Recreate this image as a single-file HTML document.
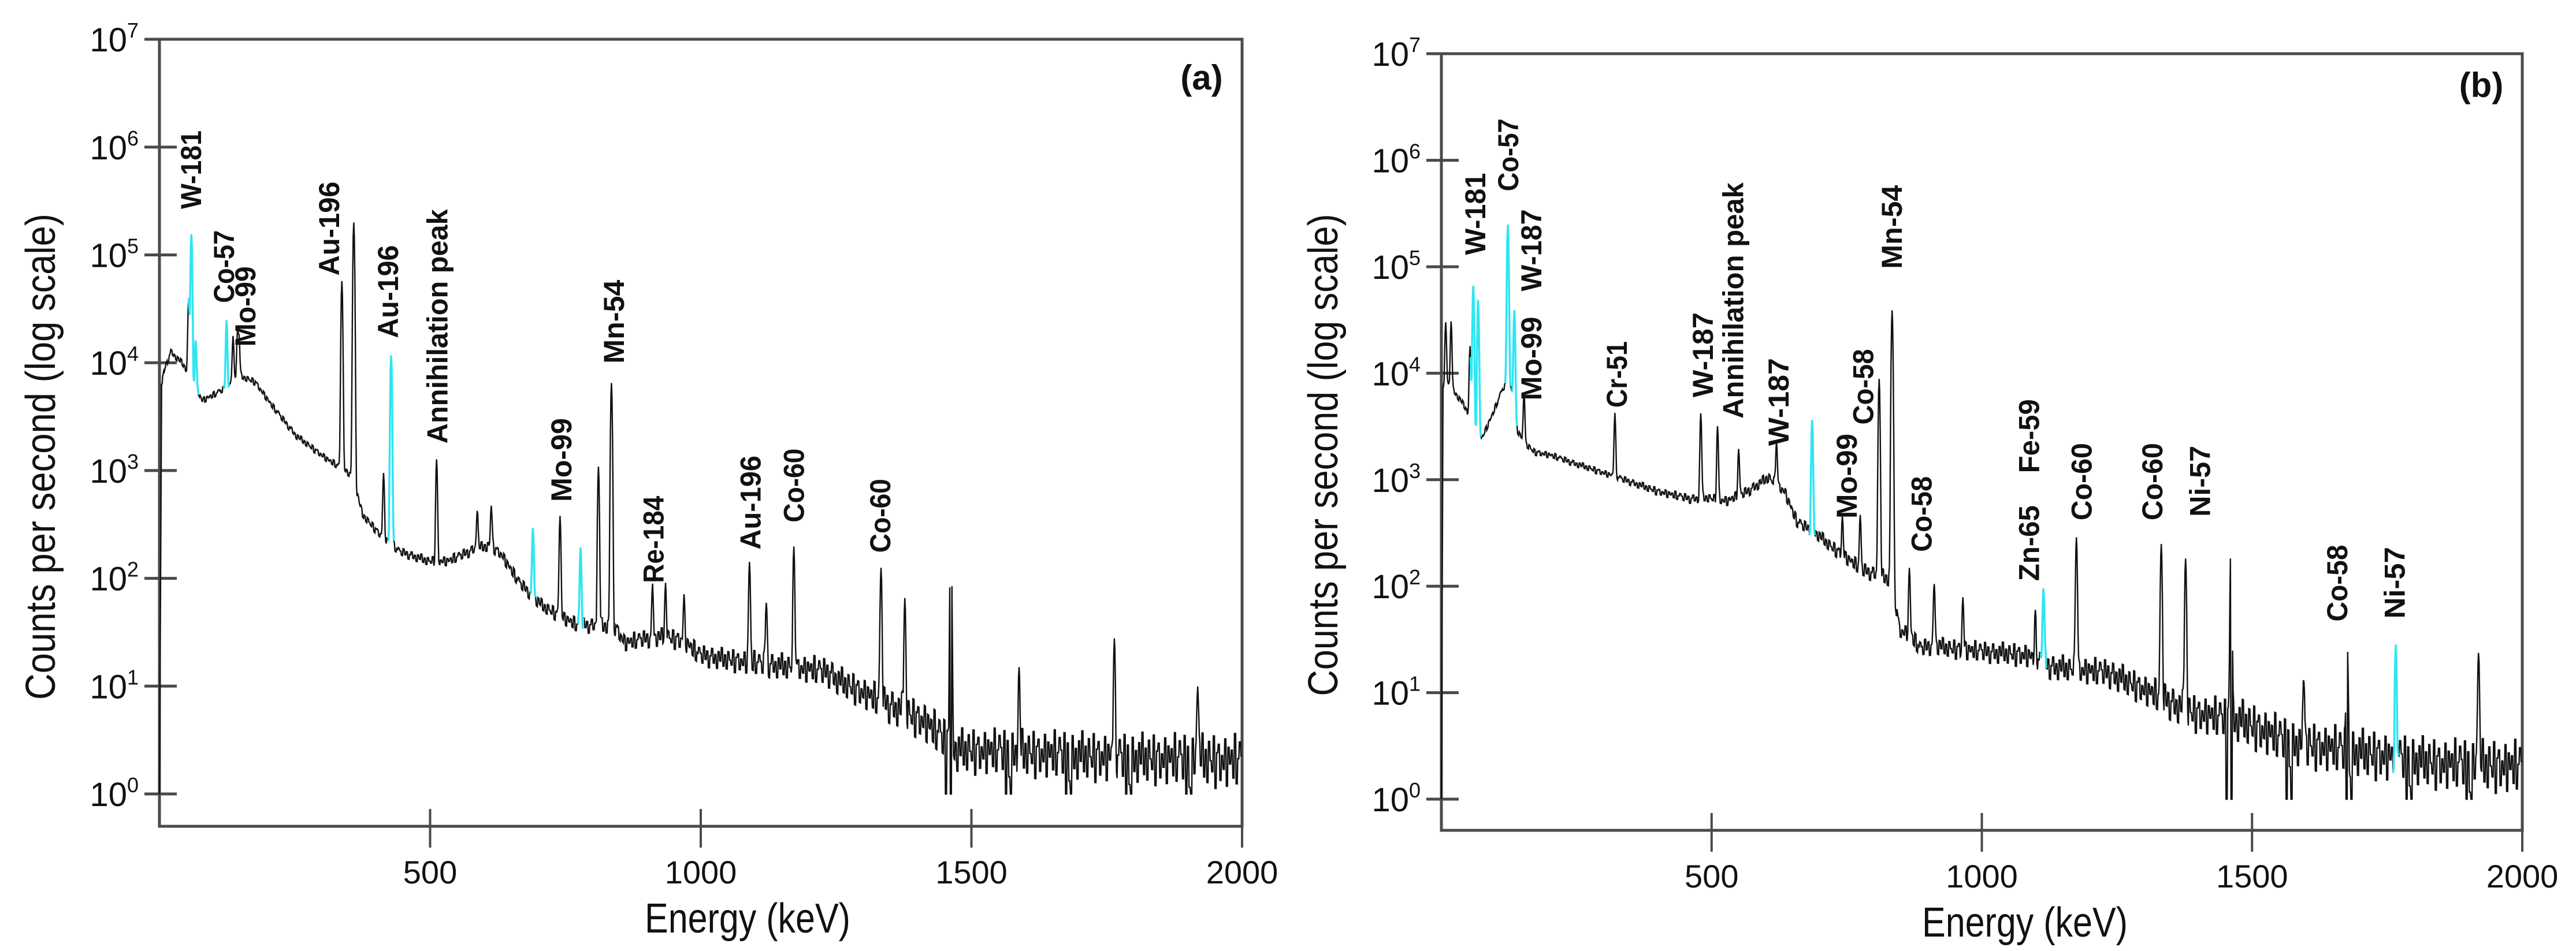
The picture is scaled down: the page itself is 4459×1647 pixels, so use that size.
<!DOCTYPE html>
<html><head><meta charset="utf-8"><style>
html,body{margin:0;padding:0;background:#fff;}
svg{display:block;}
text{font-family:"Liberation Sans",sans-serif;}
</style></head><body>
<svg id="fig" width="4459" height="1647" viewBox="0 0 4459 1647" xmlns="http://www.w3.org/2000/svg">
<rect width="4459" height="1647" fill="#fff"/>
<g id="panelA"></g>
<g id="panelB"></g>
</svg>
<script>
const NS="http://www.w3.org/2000/svg";
// ---------- data ----------
const xTicks=[500,1000,1500,2000];
const yTickExps=[0,1,2,3,4,5,6,7];
const noisePattern=[0.2,-0.7,0.9,-0.3,0.5,-1,0.1,0.8,-0.5,0.3,-0.9,0.6,-0.2,1,-0.6,0.4,-0.8,0.7,0,-0.4,0.9,-1,0.3,0.6,-0.7,0.2,-0.3,0.8,-0.9,0.5,-0.1,0.4,-0.6,1,-0.8,0.1,0.7];
const ampE=[0,300,700,1000,1300,1500,2000];
const ampV=[0.03,0.03,0.06,0.1,0.15,0.22,0.26];

const contA_E=[0,4,10,21,41,55,79,100,124,147,177,208,253,314,350,358,362,375,405,443,496,534,587,613,632,663,708,769,842,860,911,935,969,996,1040,1121,1208,1239,1254,1315,1413,1474,1588,1700,1800,2000];
const contA_V=[0,3.8,3.95,4.1,4.0,3.9,3.65,3.7,3.77,3.88,3.82,3.6,3.32,3.09,2.98,2.96,2.85,2.59,2.42,2.25,2.16,2.16,2.28,2.3,2.22,1.97,1.74,1.57,1.55,1.4,1.45,1.45,1.42,1.29,1.25,1.2,1.15,1.12,1.05,0.9,0.67,0.4,0.38,0.35,0.33,0.3];
const peaksA_E=[54,59,67,124,136,144,147,337,359,414,428,512,587,613,690,740,778,811,835,911,935,969,1090,1121,1172,1333,1377,1462,1588,1764,1918];
const peaksA_V=[4.5,5.17,4.0,4.27,4.05,4.05,4.0,4.75,5.3,2.84,4.06,3.05,2.4,2.45,2.36,2.53,2.19,3.02,3.81,1.75,1.78,1.6,2.1,1.65,2.25,2.07,1.77,2.42,1.07,1.38,0.94];
const peaksA_C=[0,1,1,1,0,0,0,0,0,0,1,0,0,0,1,0,1,0,0,0,0,0,0,0,0,0,0,0,0,0,0];

const contB_E=[0,3,10,20,35,53,60,76,96,114,128,141,153,172,202,248,321,400,460,491,529,550,567,605,635,658,693,719,780,810,835,848,866,886,912,932,965,1008,1084,1129,1236,1312,1388,1479,1570,1676,1843,2000];
const contB_V=[0,3.86,3.9,3.85,3.75,3.6,3.5,3.4,3.63,3.86,3.9,3.46,3.35,3.26,3.23,3.15,3.03,2.89,2.82,2.83,2.8,2.85,2.89,3.02,2.89,2.6,2.5,2.38,2.15,2.1,2.05,1.58,1.55,1.41,1.45,1.42,1.4,1.38,1.35,1.24,1.18,1.0,0.81,0.73,0.53,0.45,0.33,0.3];
const peaksB_E=[8,18,53,59,68,123,135,153,321,480,511,550,620,686,742,775,810,834,866,912,965,1099,1114,1175,1332,1377,1461,1596,1676,1766,1919];
const peaksB_V=[4.34,4.37,4.14,4.8,4.66,5.38,4.54,3.63,3.49,3.55,3.4,3.09,3.16,3.52,2.4,2.48,3.94,4.59,2.04,1.9,1.72,1.52,1.9,2.44,2.38,2.24,2.38,1.01,1.44,1.38,1.35];
const peaksB_C=[0,0,0,1,1,1,1,0,0,0,0,0,0,1,0,0,0,0,0,0,0,0,1,0,0,0,0,0,0,1,0];

const labelsA_T=["W-181","Co-57","Mo-99","Au-196","Au-196","Annihilation peak","Mo-99","Mn-54","Re-184","Au-196","Co-60","Co-60"];
const labelsA_L=[[232,215,345],[272,380,500],[298,440,572],[400,300,455],[472,405,558],[532,345,732],[683,690,828],[747,462,600],[795,818,962],[913,752,907],[966,740,862],[1071,790,912]];
const labelsB_T=["W-181","Co-57","W-187","Mo-99","Cr-51","W-187","Annihilation peak","W-187","Mo-99","Co-58","Mn-54","Co-58","Zn-65","Fe-59","Co-60","Co-60","Ni-57","Co-58","Ni-57"];
const labelsB_L=[[228,285,420],[268,195,315],[296,345,480],[296,522,660],[400,562,672],[505,515,655],[542,300,690],[597,590,735],[680,715,855],[700,575,700],[735,305,443],[771,785,910],[902,833,958],[902,658,780],[966,730,858],[1052,730,858],[1110,735,852],[1277,898,1025],[1347,902,1020]];

// ---------- helpers ----------
function el(tag,attrs,parent){const e=document.createElementNS(NS,tag);for(const k in attrs)e.setAttribute(k,attrs[k]);if(parent)parent.appendChild(e);return e;}
function interp(xs,ys,x){if(x<=xs[0])return ys[0];for(let i=1;i<xs.length;i++){if(x<=xs[i]){const t=(x-xs[i-1])/(xs[i]-xs[i-1]);return ys[i-1]+t*(ys[i]-ys[i-1]);}}return ys[ys.length-1];}

function drawPanel(g,cfg){
  const xs=e=>cfg.x0+(e/2000)*(cfg.x1-cfg.x0);
  const ys=l=>cfg.y0-l*cfg.dec;
  const axis="#4a4a4a";
  let f=el('rect',{x:cfg.x0,y:cfg.top,width:cfg.x1-cfg.x0,height:cfg.bottom-cfg.top,fill:'none',stroke:axis,'stroke-width':5},g);
  
  yTickExps.forEach(p=>{
    const y=ys(p);
    if(p<7){const t=el('line',{x1:cfg.x0-26,x2:cfg.x0+30,y1:y,y2:y,stroke:axis,'stroke-width':5},g);
    }
    else{el('line',{x1:cfg.x0-26,x2:cfg.x0,y1:cfg.top,y2:cfg.top,stroke:axis,'stroke-width':5},g);}
    const yy=p<7?y:cfg.top;
    const tx=el('text',{x:cfg.x0-36,y:yy+21,'font-size':58,'text-anchor':'end',fill:'#111'},g);
    
    const a=el('tspan',{},tx);a.textContent='10';
    const b=el('tspan',{'font-size':36,dy:-24},tx);b.textContent=String(p);
  });
  xTicks.forEach(v=>{
    const x=xs(v);
    const t=el('line',{x1:x,x2:x,y1:cfg.bottom-30,y2:cfg.bottom+37,stroke:axis,'stroke-width':4},g);
    
    const tx=el('text',{x:x,y:cfg.bottom+99,'font-size':56,'text-anchor':'middle',fill:'#111'},g);
    
    tx.textContent=String(v);
  });
  const yt=el('text',{x:0,y:0,'font-size':72,'text-anchor':'middle',fill:'#111',textLength:cfg.ytLen,lengthAdjust:'spacingAndGlyphs',transform:`translate(${cfg.ytX},${cfg.ytY}) rotate(-90)`},g);
  
  yt.textContent='Counts per second (log scale)';
  const xt=el('text',{x:cfg.xtX,y:cfg.bottom+184,'font-size':72,'text-anchor':'middle',fill:'#111',textLength:356,lengthAdjust:'spacingAndGlyphs'},g);
  
  xt.textContent='Energy (keV)';
  const pl=el('text',{x:cfg.panX,y:cfg.panY,'font-size':60,'font-weight':'bold','text-anchor':'middle',fill:'#111'},g);
  
  pl.textContent=cfg.panel;
  // spectrum
  const pts=[];
  for(let e=0;e<=2000;e++){
    const bin=Math.floor(e/3);
    let lc=interp(cfg.cE,cfg.cV,e);
    if(e>4) lc+=noisePattern[bin%noisePattern.length]*interp(ampE,ampV,e);
    let lin=Math.pow(10,lc);
    for(let i=0;i<cfg.pE.length;i++){const d=e-cfg.pE[i];if(Math.abs(d)<8)lin+=Math.pow(10,cfg.pV[i])*Math.exp(-d*d/(2*1.3*1.3));}
    let l=Math.log10(lin);if(l<0)l=0;
    if(e>1450&&noisePattern[(bin*7)%noisePattern.length]<-0.95&&Math.abs(lc-interp(cfg.cE,cfg.cV,e))>0)l=0;
    pts.push([xs(e),ys(l)]);
  }
  const d='M'+pts.map(p=>p[0].toFixed(1)+' '+p[1].toFixed(1)).join(' L');
  const sp=el('path',{d:d,fill:'none',stroke:'#111','stroke-width':2.4,'stroke-linejoin':'miter'},g);
  
  cfg.pE.forEach((pe,i)=>{
    if(!cfg.pC[i])return;
    const seg=pts.slice(Math.max(0,pe-5),pe+6);
    const c=el('path',{d:'M'+seg.map(p=>p[0].toFixed(1)+' '+p[1].toFixed(1)).join(' L'),fill:'none',stroke:'#2ee6f2','stroke-width':3.5},g);
    
  });
  cfg.lT.forEach((t,i)=>{
    const L=cfg.lL[i];
    const cx=cfg.lx(L[0]),yb=cfg.ly(L[2]),yt2=cfg.ly(L[1]);
    const tx=el('text',{x:0,y:0,'font-size':50,'font-weight':'bold',fill:'#111',textLength:(yb-yt2).toFixed(0),lengthAdjust:'spacingAndGlyphs',transform:`translate(${(cx+18).toFixed(1)},${yb.toFixed(1)}) rotate(-90)`},g);
    
    tx.textContent=t;
  });
}

drawPanel(document.getElementById('panelA'),{
  x0:276,x1:2150,top:68,bottom:1431,y0:1375,dec:186.7,
  ytX:95,ytY:791,ytLen:842,xtX:1294,panX:2080,panY:155,panel:'(a)',
  cE:contA_E,cV:contA_V,pE:peaksA_E,pV:peaksA_V,pC:peaksA_C,
  lT:labelsA_T,lL:labelsA_L,lx:d=>d*1.422,ly:d=>68+(d-65)*1.0498
});
drawPanel(document.getElementById('panelB'),{
  x0:2495,x1:4366,top:93,bottom:1438,y0:1384,dec:184.4,
  ytX:2315,ytY:788,ytLen:835,xtX:3505,panX:4295,panY:168,panel:'(b)',
  cE:contB_E,cV:contB_V,pE:peaksB_E,pV:peaksB_V,pC:peaksB_C,
  lT:labelsB_T,lL:labelsB_L,lx:d=>2229+d*1.422,ly:d=>93+(d-88)*1.0496
});
</script>
</body></html>
